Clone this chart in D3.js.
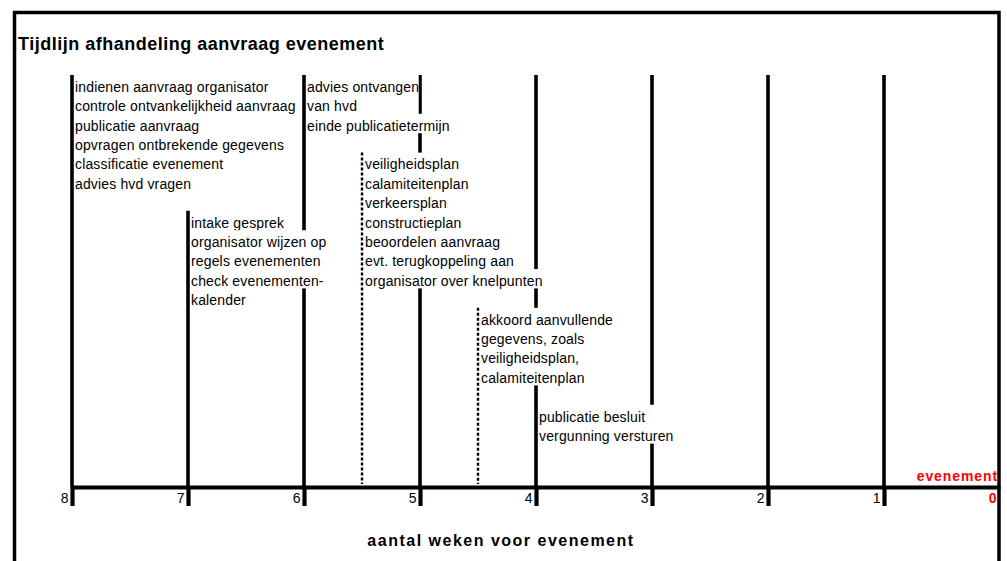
<!DOCTYPE html>
<html><head><meta charset="utf-8">
<script src="https://cdn.jsdelivr.net/npm/d3@7"></script>
<style>
html,body{margin:0;padding:0;background:#fff;}
svg{display:block;font-family:Arial,"Liberation Sans",sans-serif;}
</style></head>
<body>
<svg id="chart" width="1007" height="561"></svg>
<script>
// ---- data ----
const title = "Tijdlijn afhandeling aanvraag evenement";
const axisTitle = "aantal weken voor evenement";
const eventLabel = "evenement";
const tickWeeks = [8,7,6,5,4,3,2,1,0];
const tickLabels = ["8","7","6","5","4","3","2","1","0"];
// solid vertical week lines and the text row where they start
const lineWeeks = [8,7,6,5,4,3,2,1];
const lineStartRows = [0,7,0,0,0,0,0,0];
// dotted half-week lines
const dottedWeeks = [5.5,4.5];
const dottedStartRows = [4,12];
// text groups: anchor week, first row, lines
const groupWeeks = [8,6,6,7,7,7,5.5,5.5,4.5,4];
const groupRows  = [0,0,2,7,8,11,4,10,12,17];
const groupLines = [
  ["indienen aanvraag organisator","controle ontvankelijkheid aanvraag","publicatie aanvraag","opvragen ontbrekende gegevens","classificatie evenement","advies hvd vragen"],
  ["advies ontvangen","van hvd"],
  ["einde publicatietermijn"],
  ["intake gesprek"],
  ["organisator wijzen op","regels evenementen","check evenementen-"],
  ["kalender"],
  ["veiligheidsplan","calamiteitenplan","verkeersplan","constructieplan","beoordelen aanvraag","evt. terugkoppeling aan"],
  ["organisator over knelpunten"],
  ["akkoord aanvullende","gegevens, zoals","veiligheidsplan,","calamiteitenplan"],
  ["publicatie besluit","vergunning versturen"]
];

// ---- layout ----
const svg = d3.select("#chart");
const axisY = 487;
const x = d3.scaleLinear().domain([8,0]).range([72,1000]);
const row = d3.scaleLinear().domain([0,1]).range([75,94.4]);
const rowH = row(1)-row(0);

// frame
svg.append("path")
  .attr("d", `M14.5,561 V12.5 H999 V561`)
  .attr("fill","none").attr("stroke","#000").attr("stroke-width",3.5);

// title
svg.append("text").attr("x",18).attr("y",50)
  .attr("font-size",18).attr("font-weight","bold").attr("letter-spacing",0.5)
  .text(title);

// solid lines
svg.append("g").selectAll("line").data(lineWeeks).join("line")
  .attr("x1",d=>x(d)).attr("x2",d=>x(d))
  .attr("y1",(d,i)=>row(lineStartRows[i])).attr("y2",axisY)
  .attr("stroke","#000").attr("stroke-width",3.6);

// dotted lines
svg.append("g").selectAll("line").data(dottedWeeks).join("line")
  .attr("x1",d=>x(d)).attr("x2",d=>x(d))
  .attr("y1",(d,i)=>row(dottedStartRows[i])).attr("y2",axisY-3)
  .attr("stroke","#000").attr("stroke-width",2.4).attr("stroke-dasharray","3,2");

// text groups
const groups = svg.append("g").selectAll("g").data(groupLines).join("g");
groups.each(function(lines,gi){
  const g = d3.select(this);
  const tx = x(groupWeeks[gi]) + 3;
  const bg = g.append("rect").attr("fill","#fff");
  const texts = g.selectAll("text").data(lines).join("text")
    .attr("x",tx).attr("y",(d,i)=>row(groupRows[gi]+i)+16.7)
    .attr("font-size",14).attr("letter-spacing",0.15)
    .text(d=>d);
  let w = 0;
  texts.each(function(){ w = Math.max(w, this.getComputedTextLength()); });
  bg.attr("x",tx-0.5).attr("y",row(groupRows[gi]))
    .attr("width",w).attr("height",rowH*lines.length);
});

// axis
const axis = d3.axisBottom(x).tickValues(tickWeeks).tickSize(19).tickSizeOuter(0)
  .tickFormat((d,i)=>tickLabels[i]);
const ax = svg.append("g").attr("transform",`translate(0,${axisY})`).call(axis);
ax.attr("font-size",null).attr("font-family",null);
ax.select(".domain").attr("stroke","#000").attr("stroke-width",4.2);
ax.selectAll(".tick line").attr("stroke","#000").attr("stroke-width",4.2);
ax.selectAll(".tick text")
  .attr("text-anchor","end").attr("x",-4).attr("y",16).attr("dy",null)
  .style("font-size","14px").style("font-family","Arial,'Liberation Sans',sans-serif")
  .attr("fill","#000");
ax.selectAll(".tick").filter(d=>d===0).select("text")
  .attr("fill","#ff0000").style("font-weight","bold");
ax.selectAll(".tick").filter(d=>d===0).select("line").attr("stroke","none");

// event label
svg.append("text").attr("x",x(0)-2).attr("y",481)
  .attr("text-anchor","end").attr("font-size",14).attr("font-weight","bold")
  .attr("letter-spacing",0.9).attr("fill","#ff0000").text(eventLabel);

// axis title
svg.append("text").attr("x",501).attr("y",546)
  .attr("text-anchor","middle").attr("font-size",16).attr("font-weight","bold")
  .attr("letter-spacing",1.5).text(axisTitle);
</script>
</body></html>
